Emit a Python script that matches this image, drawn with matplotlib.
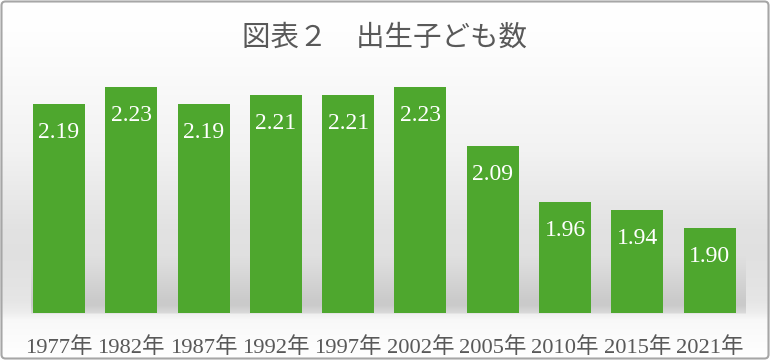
import numpy as np
import matplotlib
matplotlib.use("Agg")
import matplotlib.pyplot as plt
from matplotlib.patches import FancyBboxPatch

# ---- data ----
categories = ["1977年", "1982年", "1987年", "1992年", "1997年",
              "2002年", "2005年", "2010年", "2015年", "2021年"]
values = [2.19, 2.23, 2.19, 2.21, 2.21, 2.23, 2.09, 1.96, 1.94, 1.90]
value_labels = ["2.19", "2.23", "2.19", "2.21", "2.21", "2.23", "2.09", "1.96", "1.94", "1.90"]
title = "図表２　出生子ども数"

W, H, DPI = 770, 360, 100
BAR = "#4EA72E"
GREY_TXT = "#595959"
FONT = ["Liberation Serif", "Noto Sans CJK JP", "DejaVu Sans"]
TFONT = ["Noto Sans CJK JP", "DejaVu Sans"]

fig = plt.figure(figsize=(W / DPI, H / DPI), dpi=DPI)

# axes geometry (pixels)
ax_left, ax_right = 22.8, 745.8
ax_bottom_px = 313.0   # from top
ax_top_px = 60.0

# ---- background gradient ----
bg = fig.add_axes([0, 0, 1, 1], zorder=0)
bg.set_axis_off()
yy = np.arange(H)[:, None].astype(float)
xx = np.arange(W)[None, :].astype(float)
stops_y = [0, 40, 150, 230, 255, 300, 312, 320, 360]
stops_v = [1.0, 0.995, 0.95, 0.885, 0.88, 0.90, 0.93, 0.975, 1.0]
base = np.interp(yy, stops_y, stops_v) * np.ones((1, W))
# darker floor shadow band behind the bars
inside = ((xx >= ax_left + 8) & (xx <= ax_right)).astype(float)
band = np.interp(yy, [255, 285, 305, 312, 314], [0.0, 0.07, 0.12, 0.08, 0.0])
img = np.clip(base - band * inside, 0, 1)
bg.imshow(np.dstack([img, img, img]), extent=[0, W, H, 0], aspect="auto", interpolation="bilinear")
bg.set_xlim(0, W)
bg.set_ylim(H, 0)
bg.add_patch(FancyBboxPatch((1.5, 1.5), W - 3, H - 3,
                            boxstyle="round,pad=0,rounding_size=4",
                            fill=False, edgecolor="#a6a6a6", linewidth=1.5))

# ---- main axes ----
ymin = 1.7
px_per_unit = (229 - 88) / (2.23 - 1.90)
ymax = ymin + (ax_bottom_px - ax_top_px) / px_per_unit
ax = fig.add_axes([ax_left / W, 1 - ax_bottom_px / H,
                   (ax_right - ax_left) / W, (ax_bottom_px - ax_top_px) / H], zorder=1)
ax.patch.set_alpha(0)
x = np.arange(len(categories))
bars = ax.bar(x, values, width=0.72, color=BAR, edgecolor="none")
ax.set_xlim(-0.5, len(categories) - 0.5)
ax.set_ylim(ymin, ymax)
for s in ax.spines.values():
    s.set_visible(False)
ax.set_yticks([])
ax.set_xticks(x)
ax.set_xticklabels(categories, fontfamily=FONT, fontsize=16.2, color=GREY_TXT)
ax.tick_params(axis="x", length=0, pad=17.5)

for xi, v, lab in zip(x, values, value_labels):
    ax.annotate(lab, (xi, v), xytext=(0, -20.5), textcoords="offset points",
                ha="center", va="center", color="white",
                fontfamily=FONT, fontsize=17)

fig.text(385 / W, 1 - 38 / H, title, ha="center", va="center",
         fontfamily=TFONT, fontsize=20.5, color=GREY_TXT)

fig.savefig("out.png", dpi=DPI)
